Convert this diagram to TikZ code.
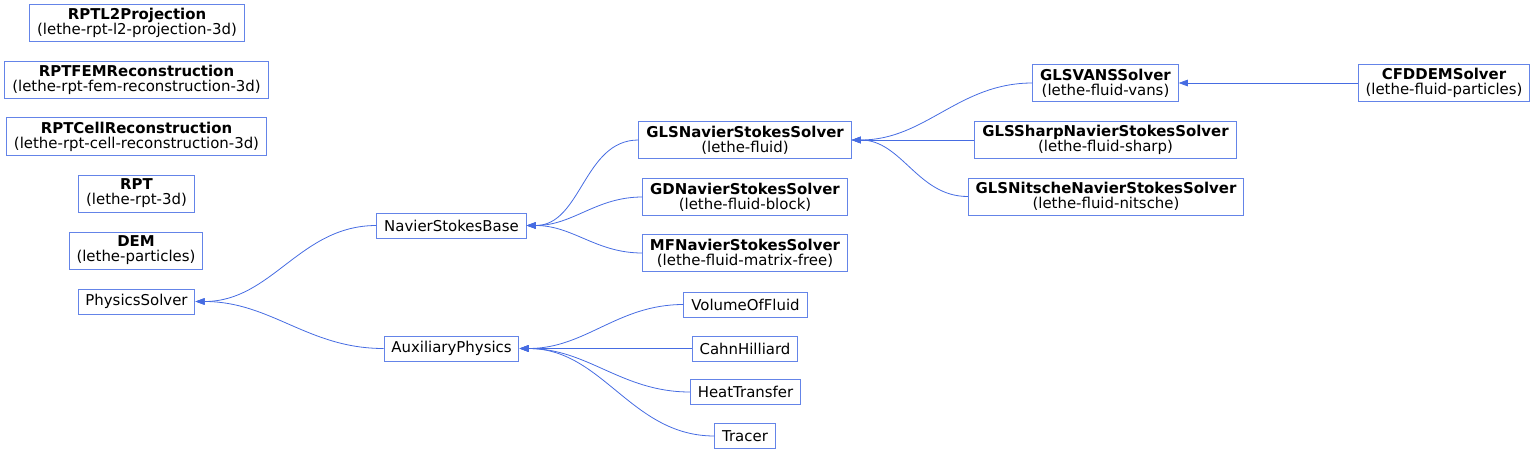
\documentclass[tikz,border=0pt]{standalone}
\usepackage{fontspec}
\setmainfont{DejaVu Sans}
\usepackage{tikz}
\usetikzlibrary{arrows.meta}

\definecolor{boxblue}{RGB}{100,132,232}
\definecolor{edgeblue}{RGB}{70,108,226}

\tikzset{
  cls/.style={rectangle,draw=boxblue,fill=white,line width=0.75pt,inner xsep=5.5pt,inner ysep=0pt,minimum height=18.75pt,align=center,font=\fontsize{11.2}{11.4}\selectfont},
  pkg/.style={cls,minimum height=27.75pt},
  edge/.style={-{Triangle[length=7pt,width=5pt]},draw=edgeblue,line width=0.6pt}
}

\begin{document}
\begin{tikzpicture}[x=0.75pt,y=-0.75pt]
\useasboundingbox (0,0) rectangle (1536,453);
% standalone applications
\node[pkg] (l2) at (137,23) {\textbf{RPTL2Projection}\\(lethe-rpt-l2-projection-3d)};
\node[pkg] (fem) at (136.5,80) {\textbf{RPTFEMReconstruction}\\(lethe-rpt-fem-reconstruction-3d)};
\node[pkg] (cell) at (136.5,136.5) {\textbf{RPTCellReconstruction}\\(lethe-rpt-cell-reconstruction-3d)};
\node[pkg] (rpt) at (136.5,193.5) {\textbf{RPT}\\(lethe-rpt-3d)};
\node[pkg] (dem) at (136,250.5) {\textbf{DEM}\\(lethe-particles)};
% base classes
\node[cls] (phys) at (136.5,301.5) {PhysicsSolver};
\node[cls] (nsb) at (451.5,225.5) {NavierStokesBase};
\node[cls] (aux) at (451.5,348.5) {AuxiliaryPhysics};
% fluid solvers
\node[pkg] (gls) at (745,140) {\textbf{GLSNavierStokesSolver}\\(lethe-fluid)};
\node[pkg] (gd) at (745,197) {\textbf{GDNavierStokesSolver}\\(lethe-fluid-block)};
\node[pkg] (mf) at (745,253) {\textbf{MFNavierStokesSolver}\\(lethe-fluid-matrix-free)};
\node[pkg] (vans) at (1105.5,83) {\textbf{GLSVANSSolver}\\(lethe-fluid-vans)};
\node[pkg] (sharp) at (1105.5,140) {\textbf{GLSSharpNavierStokesSolver}\\(lethe-fluid-sharp)};
\node[pkg] (nit) at (1106,196.5) {\textbf{GLSNitscheNavierStokesSolver}\\(lethe-fluid-nitsche)};
\node[pkg] (cfd) at (1444,83) {\textbf{CFDDEMSolver}\\(lethe-fluid-particles)};
% auxiliary physics
\node[cls] (vof) at (745.5,304.5) {VolumeOfFluid};
\node[cls] (ch) at (745,348.5) {CahnHilliard};
\node[cls] (ht) at (745.5,392) {HeatTransfer};
\node[cls] (tr) at (745,436) {Tracer};
% inheritance
\draw[edge] (nsb.west) to[out=180,in=0] (phys.east);
\draw[edge] (aux.west) to[out=180,in=0] (phys.east);
\draw[edge] (gls.west) to[out=180,in=0] (nsb.east);
\draw[edge] (gd.west) to[out=180,in=0] (nsb.east);
\draw[edge] (mf.west) to[out=180,in=0] (nsb.east);
\draw[edge] (vans.west) to[out=180,in=0] (gls.east);
\draw[edge] (sharp.west) -- (gls.east);
\draw[edge] (nit.west) to[out=180,in=0] (gls.east);
\draw[edge] (cfd.west) -- (vans.east);
\draw[edge] (vof.west) to[out=180,in=0] (aux.east);
\draw[edge] (ch.west) -- (aux.east);
\draw[edge] (ht.west) to[out=180,in=0] (aux.east);
\draw[edge] (tr.west) to[out=180,in=0] (aux.east);
\end{tikzpicture}
\end{document}
